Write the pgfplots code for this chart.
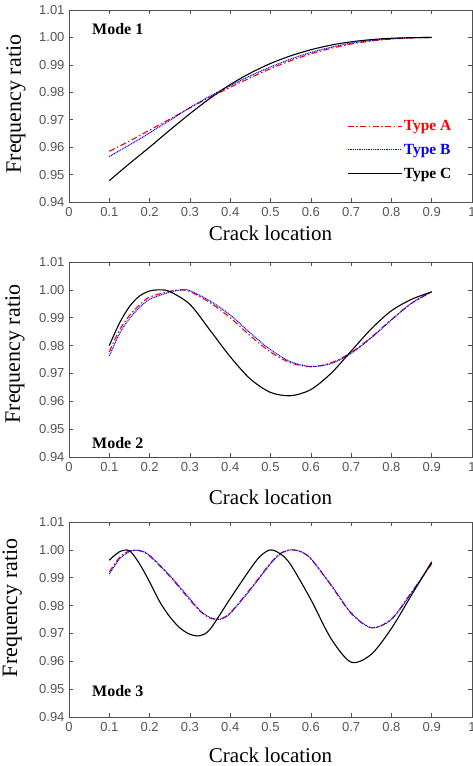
\documentclass[border=0pt]{standalone}
\usepackage{fontspec}
\setmainfont{Liberation Serif}
\newfontfamily\tickfont{Liberation Sans}
\usepackage{pgfplots}
\pgfplotsset{compat=1.18}
\definecolor{axgray}{RGB}{80,80,80}
\definecolor{tickgray}{RGB}{85,85,85}
\pgfplotsset{
 myaxis/.style={
  scale only axis, width=403pt,
  xmin=0, xmax=1, ymin=0.94, ymax=1.01,
  xtick={0,0.1,0.2,0.3,0.4,0.5,0.6,0.7,0.8,0.9,1},
  xticklabels={0,0.1,0.2,0.3,0.4,0.5,0.6,0.7,0.8,0.9,1},
  ytick={0.94,0.95,0.96,0.97,0.98,0.99,1.00,1.01},
  yticklabels={0.94,0.95,0.96,0.97,0.98,0.99,1.00,1.01},
  tick align=inside, major tick length=4pt,
  axis line style={axgray, line width=0.8pt},
  every tick/.style={axgray, line width=0.6pt},
  tick label style={font=\tickfont\fontsize{13}{13}\selectfont, text=tickgray},
  xticklabel style={yshift=-2pt},
  yticklabel style={xshift=-1pt},
  xlabel={Crack location}, ylabel={Frequency ratio},
  xlabel style={font=\fontsize{21}{21}\selectfont, anchor=center},
  ylabel style={font=\fontsize{22}{22}\selectfont, anchor=center, rotate=0},
 },
 tA/.style={red, line width=1.1pt, dash pattern=on 6pt off 2.5pt on 1.5pt off 2.5pt},
 tB/.style={blue, line width=1.1pt, dash pattern=on 1pt off 0.8pt},
 tC/.style={black, line width=1.1pt},
}
\begin{document}
\begin{tikzpicture}
\useasboundingbox (0,0) rectangle (473pt,-766pt);
% ---------------- Mode 1
\begin{axis}[myaxis, height=192pt, at={(69pt,-202pt)}, anchor=south west,
  xlabel style={at={(axis description cs:0.5,0)}, yshift=-31pt},
  ylabel style={at={(axis description cs:-0.1315,0.51)}},
  legend style={draw=none, fill=none, at={(0.69,0.434)}, anchor=north west,
    inner sep=0pt, row sep=9pt, font=\bfseries\fontsize{15.5}{15.5}\selectfont,
    nodes={inner sep=1.5pt}},
  legend cell align=left,
  legend image code/.code={\draw[#1] (0pt,0pt) -- (44pt,0pt); \path (0pt,0pt) -- (54pt,0pt);},
  ]
\addplot[tA, smooth] coordinates {(0.1,0.9585) (0.15,0.9622) (0.2,0.9662) (0.25,0.9702) (0.3,0.9743) (0.35,0.9782) (0.4,0.9818) (0.45,0.9853) (0.5,0.9886) (0.55,0.9915) (0.6,0.9940) (0.65,0.9960) (0.7,0.9976) (0.75,0.9987) (0.8,0.9994) (0.85,0.9998) (0.9,1.0)};
\addlegendentry{\textcolor{red}{Type A}}
\addplot[tB, smooth] coordinates {(0.1,0.9566) (0.15,0.9608) (0.2,0.9652) (0.25,0.9698) (0.3,0.9744) (0.35,0.9786) (0.4,0.9824) (0.45,0.9860) (0.5,0.9892) (0.55,0.9921) (0.6,0.9945) (0.65,0.9964) (0.7,0.9979) (0.75,0.9989) (0.8,0.9995) (0.85,0.9999) (0.9,1.0)};
\addlegendentry{\textcolor{blue}{Type B}}
\addplot[tC, smooth] coordinates {(0.1,0.9478) (0.15,0.9540) (0.2,0.9600) (0.25,0.9662) (0.3,0.9722) (0.35,0.9778) (0.4,0.9828) (0.45,0.9870) (0.5,0.9905) (0.55,0.9933) (0.6,0.9955) (0.65,0.9972) (0.7,0.9984) (0.75,0.9992) (0.8,0.9997) (0.85,0.9999) (0.9,1.0)};
\addlegendentry{\textcolor{black}{Type C}}
\node[anchor=west, font=\bfseries\fontsize{16}{16}\selectfont, inner sep=0pt] at (axis cs:0.057,1.0031) {Mode 1};
\end{axis}
% ---------------- Mode 2
\begin{axis}[myaxis, height=195pt, at={(69pt,-457pt)}, anchor=south west,
  xlabel style={at={(axis description cs:0.5,0)}, yshift=-40pt},
  ylabel style={at={(axis description cs:-0.134,0.528)}},
  ]
\addplot[tA, smooth] coordinates {(0.1,0.9778) (0.125,0.9855) (0.15,0.9908) (0.175,0.9946) (0.2,0.9974) (0.25,0.9995) (0.275,1.0) (0.3,0.9994) (0.35,0.9954) (0.4,0.9900) (0.45,0.9835) (0.5,0.9777) (0.55,0.9738) (0.6,0.9724) (0.65,0.9738) (0.7,0.9775) (0.75,0.9830) (0.8,0.9893) (0.85,0.9952) (0.9,0.9993)};
\addplot[tB, smooth] coordinates {(0.1,0.9763) (0.125,0.9842) (0.15,0.9897) (0.175,0.9937) (0.2,0.9966) (0.25,0.9992) (0.28,1.0) (0.3,0.9997) (0.35,0.9960) (0.4,0.9910) (0.45,0.9845) (0.5,0.9785) (0.55,0.9742) (0.6,0.9725) (0.65,0.9735) (0.7,0.9772) (0.75,0.9828) (0.8,0.9892) (0.85,0.9952) (0.9,0.9993)};
\addplot[tC, smooth] coordinates {(0.1,0.9800) (0.125,0.9880) (0.15,0.9940) (0.175,0.9978) (0.2,0.9996) (0.225,1.0) (0.25,0.9994) (0.3,0.9948) (0.35,0.9855) (0.4,0.9760) (0.45,0.9680) (0.5,0.9632) (0.55,0.9620) (0.6,0.9642) (0.65,0.9700) (0.7,0.9780) (0.75,0.9860) (0.8,0.9925) (0.85,0.9966) (0.9,0.9993)};
\node[anchor=west, font=\bfseries\fontsize{16}{16}\selectfont, inner sep=0pt] at (axis cs:0.057,0.9451) {Mode 2};
\end{axis}
% ---------------- Mode 3
\begin{axis}[myaxis, height=195pt, at={(69pt,-717pt)}, anchor=south west,
  xlabel style={at={(axis description cs:0.5,0)}, yshift=-38pt},
  ylabel style={at={(axis description cs:-0.141,0.56)}},
  ]
\addplot[tA, smooth] coordinates {(0.1,0.9921) (0.125,0.9972) (0.15,0.9996) (0.175,0.9997) (0.2,0.9978) (0.25,0.9905) (0.3,0.9820) (0.325,0.9780) (0.35,0.9755) (0.375,0.9752) (0.4,0.9774) (0.45,0.9860) (0.5,0.9953) (0.525,0.9988) (0.55,1.0) (0.575,0.9993) (0.6,0.9968) (0.65,0.9873) (0.7,0.9772) (0.75,0.9720) (0.8,0.9752) (0.85,0.9848) (0.9,0.9950)};
\addplot[tB, smooth] coordinates {(0.1,0.9913) (0.125,0.9967) (0.15,0.9994) (0.175,0.9998) (0.2,0.9980) (0.25,0.9908) (0.3,0.9824) (0.325,0.9783) (0.35,0.9757) (0.375,0.9751) (0.4,0.9772) (0.45,0.9857) (0.5,0.9950) (0.525,0.9986) (0.55,1.0) (0.575,0.9994) (0.6,0.9969) (0.65,0.9875) (0.7,0.9774) (0.75,0.9721) (0.8,0.9750) (0.85,0.9846) (0.9,0.9952)};
\addplot[tC, smooth] coordinates {(0.1,0.9963) (0.125,0.9993) (0.15,0.9997) (0.175,0.9950) (0.2,0.9885) (0.225,0.9814) (0.25,0.9760) (0.275,0.9720) (0.3,0.9697) (0.325,0.9692) (0.35,0.9715) (0.4,0.9825) (0.45,0.9932) (0.475,0.9978) (0.5,1.0) (0.525,0.9985) (0.55,0.9947) (0.6,0.9822) (0.65,0.9682) (0.7,0.9597) (0.75,0.9625) (0.8,0.9718) (0.85,0.9838) (0.9,0.9957)};
\node[anchor=west, font=\bfseries\fontsize{16}{16}\selectfont, inner sep=0pt] at (axis cs:0.057,0.9494) {Mode 3};
\end{axis}
\end{tikzpicture}
\end{document}
